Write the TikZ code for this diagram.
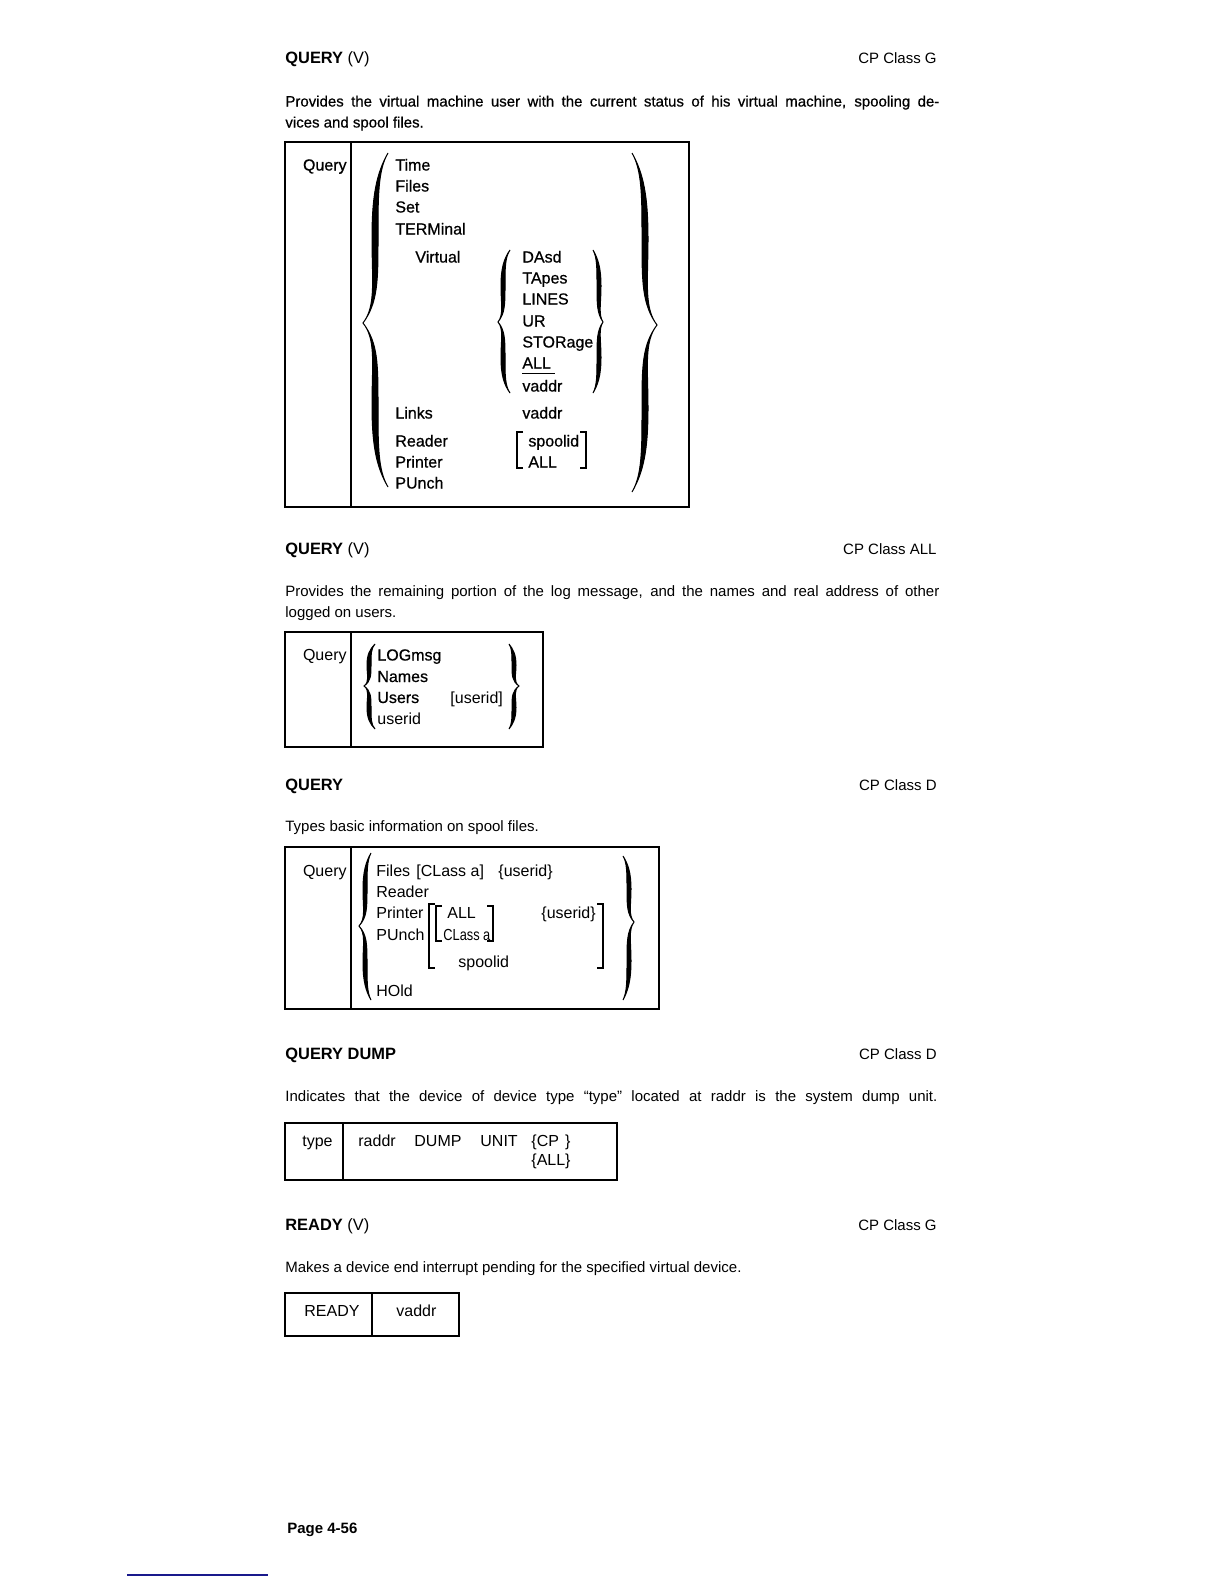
\documentclass[tikz,border=0pt]{standalone}
\usepackage{fontspec}
\setmainfont{Liberation Sans}
\newfontfamily\boldish{Liberation Sans}[FakeBold=0.6]
\newcommand\mybrace[7]{% xa y1 ym y2 d e t
 \pgfmathsetmacro\bA{#1+(#6)}%
 \pgfmathsetmacro\bT{#1-(#5)}%
 \pgfmathsetmacro\bL{#1-(#7)}%
 \pgfmathsetmacro\bLa{#1-0.25*(#7)}%
 \pgfmathsetmacro\bLb{#1-0.3*(#7)}%
 \pgfmathsetmacro\hU{#3-(#2)}\pgfmathsetmacro\hD{#4-(#3)}%
 \pgfmathsetmacro\mU{(#2+#3)/2}\pgfmathsetmacro\mD{(#3+#4)/2}%
 \filldraw[line width=0.5pt] (\bA,#2)
   .. controls (\bLa,{#2+0.12*\hU}) and (\bL,{\mU-0.25*\hU}) .. (\bL,\mU)
   .. controls (\bL,{\mU+0.25*\hU}) and (\bLb,{#3-0.1*\hU}) .. (\bT,#3)
   .. controls (\bLb,{#3+0.1*\hD}) and (\bL,{\mD-0.25*\hD}) .. (\bL,\mD)
   .. controls (\bL,{\mD+0.25*\hD}) and (\bLa,{#4-0.12*\hD}) .. (\bA,#4)
   .. controls (#1,{#4-0.1*\hD}) and (#1,{\mD+0.25*\hD}) .. (#1,\mD)
   .. controls (#1,{\mD-0.25*\hD}) and (#1,{#3+0.12*\hD}) .. (\bT,#3)
   .. controls (#1,{#3-0.12*\hU}) and (#1,{\mU+0.25*\hU}) .. (#1,\mU)
   .. controls (#1,{\mU-0.25*\hU}) and (#1,{#2+0.1*\hU}) .. (\bA,#2) -- cycle;}
\newcommand\lbrk[3]{\draw[brk] ({#1+6},#2) -- (#1,#2) -- (#1,#3) -- ({#1+6},#3);}
\newcommand\rbrk[3]{\draw[brk] ({#1-6},#2) -- (#1,#2) -- (#1,#3) -- ({#1-6},#3);}
\begin{document}
\begin{tikzpicture}[x=0.5pt,y=-0.5pt,
  hd/.style={anchor=base west,inner sep=0pt,font=\fontsize{8.2}{10}\selectfont},
  bt/.style={anchor=base west,inner sep=0pt,font=\fontsize{7.5}{9}\selectfont},
  btb/.style={anchor=base west,inner sep=0pt,font=\boldish\fontsize{7.5}{9}\selectfont},
  bx/.style={anchor=base west,inner sep=0pt,font=\fontsize{8}{10}\selectfont},
  bxb/.style={anchor=base west,inner sep=0pt,font=\boldish\fontsize{8}{10}\selectfont},
  boxline/.style={line width=1.1pt},
  divline/.style={line width=0.9pt},
  brk/.style={line width=0.9pt}]
\useasboundingbox (0,0) rectangle (1224,1584);
\fill[white] (0,0) rectangle (1224,1584);

% ---------- Section 1 ----------
\node[hd] (q1) at (285,64) {\textbf{QUERY} (V)};
\node[bt,anchor=base east] (c1) at (937,64) {CP Class G};
\node[btb] (p1a) at (285,106.5) {\makebox[327pt][s]{Provides the virtual machine user with the current status of his virtual machine, spooling de-}};
\node[btb] (p1b) at (285,127.5) {vices and spool files.};

\draw[boxline] (285,142) rectangle (689,507);
\draw[divline] (351,142) -- (351,507);
\node[bxb,anchor=base east] (b1q) at (347,170.5) {Query};
\node[bxb] (b1a) at (395,170.5) {Time};
\node[bxb] (b1b) at (395,191.5) {Files};
\node[bxb] (b1c) at (395,212.5) {Set};
\node[bxb] (b1d) at (395,234.5) {TERMinal};
\node[bxb] (b1e) at (415,262.5) {Virtual};
\node[bxb] (b1f) at (522,262.5) {DAsd};
\node[bxb] (b1g) at (522,283.5) {TApes};
\node[bxb] (b1h) at (522,304.5) {LINES};
\node[bxb] (b1i) at (522,326.5) {UR};
\node[bxb] (b1j) at (522,347.5) {STORage};
\node[bxb] (b1k) at (522,368.5) {ALL};
\draw[line width=0.8pt] (b1k.base west) ++(0,5) -- ++(33,0);
\node[bxb] (b1l) at (522,391.5) {vaddr};
\node[bxb] (b1m) at (395,418.5) {Links};
\node[bxb] (b1n) at (522,418.5) {vaddr};
\node[bxb] (b1o) at (395,446.5) {Reader};
\node[bxb] (b1p) at (395,467.5) {Printer};
\node[bxb] (b1r) at (395,488.5) {PUnch};
\node[bxb] (b1s) at (528,446.5) {spoolid};
\node[bxb] (b1t) at (528,467.5) {ALL};
\lbrk{517}{432}{468}
\rbrk{586}{432}{468}
\mybrace{378}{153}{323}{487}{15}{10}{6}
\mybrace{642}{153}{325}{492}{-15}{-10}{-6}
\mybrace{505}{250}{322}{393}{7}{5}{4}
\mybrace{597}{250}{322}{393}{-6}{-4}{-4}

% ---------- Section 2 ----------
\node[hd] (q2) at (285,554) {\textbf{QUERY} (V)};
\node[bt,anchor=base east] (c2) at (937,554) {CP Class ALL};
\node[bt] (p2a) at (285,596.5) {\makebox[327pt][s]{Provides the remaining portion of the log message, and the names and real address of other}};
\node[bt] (p2b) at (285,617.5) {logged on users.};

\draw[boxline] (285,632) rectangle (543,747);
\draw[divline] (351,632) -- (351,747);
\node[bx,anchor=base east] (b2q) at (347,660.5) {Query};
\node[bxb] (b2a) at (377,660.5) {LOGmsg};
\node[bxb] (b2b) at (377,682) {Names};
\node[bxb] (b2c) at (377,703) {Users};
\node[bx] (b2d) at (377,724) {userid};
\node[bx] (b2e) at (450,703) {[userid]};
\mybrace{371}{644}{686}{729}{7}{4}{4}
\mybrace{512}{644}{686}{729}{-7}{-3}{-4}

% ---------- Section 3 ----------
\node[hd] (q3) at (285,790) {\textbf{QUERY}};
\node[bt,anchor=base east] (c3) at (937,790) {CP Class D};
\node[bt] (p3a) at (285,831.5) {Types basic information on spool files.};

\draw[boxline] (285,847) rectangle (659,1009);
\draw[divline] (351,847) -- (351,1009);
\node[bx,anchor=base east] (b3q) at (347,876.5) {Query};
\node[bx] (b3a) at (376,876) {Files};
\node[bx] (b3b) at (416,876) {[CLass a]};
\node[bx] (b3c) at (498,876) {\{userid\}};
\node[bx] (b3d) at (376,897) {Reader};
\node[bx] (b3e) at (376,918.5) {Printer};
\node[bx] (b3f) at (376,940) {PUnch};
\node[bx] (b3g) at (447,918.5) {ALL};
\node[bx] (b3h) at (443,940) {\scalebox{0.8}[1]{CLass a}};
\node[bx] (b3i) at (541,918.5) {\{userid\}};
\node[bx] (b3j) at (458,967) {spoolid};
\node[bx] (b3k) at (376,996) {HOld};
\lbrk{429}{904}{968}
\lbrk{436}{906}{941}
\rbrk{493}{906}{941}
\rbrk{603}{904}{968}
\mybrace{367}{853}{926}{1000}{8}{4}{4}
\mybrace{627}{856}{922}{1000}{-7}{-4}{-4}

% ---------- Section 4 ----------
\node[hd] (q4) at (285,1059) {\textbf{QUERY DUMP}};
\node[bt,anchor=base east] (c4) at (937,1059) {CP Class D};
\node[bt] (p4a) at (285,1101.5) {\makebox[326pt][s]{Indicates that the device of device type ``type'' located at raddr is the system dump unit.}};

\draw[boxline] (285,1123) rectangle (617,1180);
\draw[divline] (343,1123) -- (343,1180);
\node[bx,anchor=base east] (b4q) at (333,1146) {type};
\node[bx] (b4a) at (358,1146) {raddr};
\node[bx] (b4b) at (414,1146) {DUMP};
\node[bx] (b4c) at (480,1146) {UNIT};
\node[bx] (b4d) at (531,1146) {\{\rlap{CP}\phantom{ALL}\}};
\node[bx] (b4e) at (531,1165) {\{ALL\}};

% ---------- Section 5 ----------
\node[hd] (q5) at (285,1230) {\textbf{READY} (V)};
\node[bt,anchor=base east] (c5) at (937,1230) {CP Class G};
\node[bt] (p5a) at (285,1272.5) {Makes a device end interrupt pending for the specified virtual device.};

\draw[boxline] (285,1293) rectangle (459,1336);
\draw[divline] (372,1293) -- (372,1336);
\node[bx] (b5a) at (304,1316) {READY};
\node[bx] (b5b) at (396,1316) {vaddr};

% ---------- Footer ----------
\node[bt,font=\fontsize{7.5}{9}\selectfont\bfseries] (pg) at (287,1533) {Page 4-56};
\draw[color={rgb,255:red,25;green,25;blue,140},line width=1pt] (127,1575) -- (268,1575);
\end{tikzpicture}
\end{document}
